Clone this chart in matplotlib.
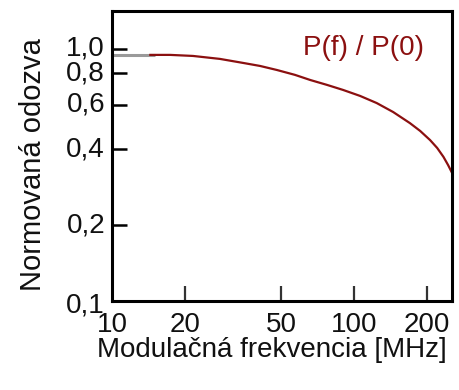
import matplotlib
matplotlib.use("Agg")
import matplotlib.pyplot as plt
from matplotlib.ticker import FixedLocator, NullLocator

plt.rcParams['font.family'] = ['Liberation Sans', 'DejaVu Sans']

# Data
flat_freq = [10.0, 15.0]
flat_resp = [0.947, 0.947]
freq = [14.4, 17.4, 21.6, 27.9, 34.8, 40.9, 48.0, 57.0, 65.9, 77.3, 89.9,
        105.9, 124.0, 145.0, 170.0, 187.4, 206.0, 220.3, 234.0, 244.6, 254.0]
resp = [0.947, 0.947, 0.938, 0.913, 0.880, 0.856, 0.825, 0.789, 0.753, 0.720, 0.688,
        0.651, 0.610, 0.562, 0.508, 0.473, 0.435, 0.405, 0.373, 0.346, 0.322]

xticks = [20, 50, 100, 200]
xlabels_pos = [10, 20, 50, 100, 200]
xlabels = ['10', '20', '50', '100', '200']
yticks = [0.2, 0.4, 0.6, 0.8, 1.0]
ylabels_pos = [0.1, 0.2, 0.4, 0.6, 0.8, 1.0]
ylabels = ['0,1', '0,2', '0,4', '0,6', '0,8', '1,0']

fig = plt.figure(figsize=(4.59, 3.90), dpi=100)
ax = fig.add_axes([0.244, 0.228, 0.741, 0.744])

ax.plot(flat_freq, flat_resp, color='#9a9a9a', lw=2.2, solid_capstyle='butt')
ax.plot(freq, resp, color='#8b1010', lw=1.6)

ax.set_xscale('log')
ax.set_yscale('log')
ax.set_xlim(10, 254)
ax.set_ylim(0.1, 1.415)

for s in ax.spines.values():
    s.set_linewidth(2.2)
    s.set_color('black')

ax.xaxis.set_major_locator(FixedLocator(xticks))
ax.xaxis.set_minor_locator(NullLocator())
ax.yaxis.set_major_locator(FixedLocator(yticks))
ax.yaxis.set_minor_locator(NullLocator())
ax.tick_params(axis='x', direction='in', length=11, width=1.6, color='#333333',
               labelbottom=False)
ax.tick_params(axis='y', direction='in', length=11, width=1.8, color='black',
               labelleft=False)

fs = 20
for v, t in zip(xlabels_pos, xlabels):
    ax.annotate(t, xy=(v, 0), xycoords=('data', 'axes fraction'),
                xytext=(0, -8), textcoords='offset points',
                ha='center', va='top', fontsize=fs, color='#111111')
for v, t in zip(ylabels_pos, ylabels):
    off = -3 if v == 0.1 else 0
    ax.annotate(t, xy=(0, v), xycoords=('axes fraction', 'data'),
                xytext=(-5, off), textcoords='offset points',
                ha='right', va='center', fontsize=fs, color='#111111')

fig.text(0.592, 0.103, 'Modulačná frekvencia [MHz]', ha='center', va='center',
         fontsize=fs, color='#111111')
fig.text(0.072, 0.577, 'Normovaná odozva', rotation=90, ha='center', va='center',
         fontsize=21, color='#111111')

ax.text(0.738, 0.872, 'P(f) / P(0)', transform=ax.transAxes, ha='center', va='center',
        fontsize=20, color='#8b1010')

fig.savefig('out.png', dpi=100)
